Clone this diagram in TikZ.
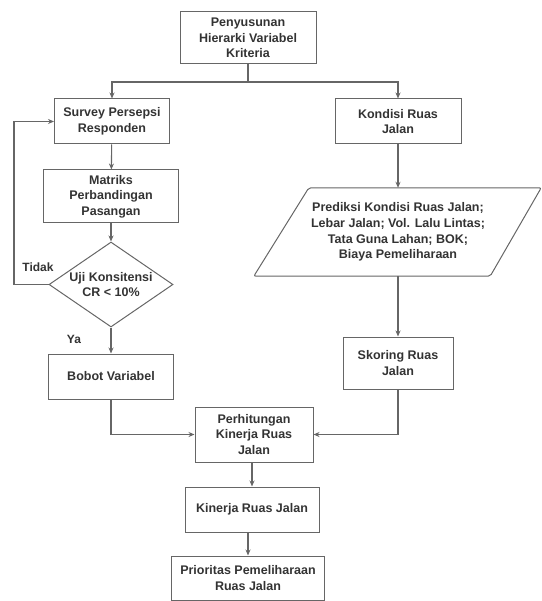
\documentclass[tikz,border=0pt]{standalone}
\usepackage{fontspec}
\setmainfont{Liberation Sans}
\usepackage{tikz}
\usetikzlibrary{arrows.meta,shapes.geometric}

\definecolor{linegray}{HTML}{666666}
\definecolor{textgray}{HTML}{333333}

\tikzset{
  box/.style={draw=linegray,line width=1pt,rectangle,align=center,inner sep=2pt,
    font=\fontsize{12.5}{15.7}\selectfont\bfseries,text=textgray},
  decision/.style={draw=linegray,line width=1pt,diamond,aspect=1.46,align=center,inner sep=0pt,
    font=\fontsize{12.5}{15.7}\selectfont\bfseries,text=textgray},
  datain/.style={rectangle,align=center,inner sep=0pt,
    font=\fontsize{12.5}{15.7}\selectfont\bfseries,text=textgray},
  outline/.style={draw=linegray,line width=1pt,rounded corners=2pt},
  flow/.style={draw=linegray,line width=1.1pt,-{Stealth[length=6pt,width=5pt]}},
  link/.style={draw=linegray,line width=1.1pt},
  tag/.style={font=\fontsize{12}{14}\selectfont\bfseries,text=textgray}
}

\begin{document}
\begin{tikzpicture}[x=1pt,y=-1pt]
        \useasboundingbox (0,0) rectangle (541,601);
        % boxes
        \node[box,minimum width=136pt,minimum height=52pt] (hierarki) at (248,38)
          {Penyusunan\\Hierarki Variabel\\Kriteria};
        \node[box,minimum width=115pt,minimum height=45pt] (survey) at (112,121.5)
          {Survey Persepsi\\Responden};
        \node[box,minimum width=126pt,minimum height=45pt] (kondisi) at (398,121.5)
          {Kondisi Ruas\\Jalan};
        \node[box,minimum width=135pt,minimum height=53pt] (matriks) at (111,196.5)
          {Matriks\\Perbandingan\\Pasangan};
        \node[decision,minimum width=124pt,minimum height=85pt] (uji) at (111,284.5)
          {Uji Konsitensi\\CR < 10\%};
        \node[datain,minimum width=236pt,minimum height=88pt] (prediksi) at (398,232)
          {Prediksi Kondisi Ruas Jalan;\\Lebar Jalan; Vol. Lalu Lintas;\\Tata Guna Lahan; BOK;\\Biaya Pemeliharaan};
        % slanted outline of the input box
        \draw[outline] ([xshift=-26pt]prediksi.south west) -- ([xshift=29pt]prediksi.north west)
          -- ([xshift=25pt]prediksi.north east) -- ([xshift=-26pt]prediksi.south east) -- cycle;
        \node[box,minimum width=125pt,minimum height=45pt] (bobot) at (111,376.5)
          {Bobot Variabel};
        \node[box,minimum width=110pt,minimum height=52pt] (skoring) at (398,363)
          {Skoring Ruas\\Jalan};
        \node[box,minimum width=118pt,minimum height=55pt] (perhitungan) at (254,434.5)
          {Perhitungan\\Kinerja Ruas\\Jalan};
        \node[box,minimum width=134pt,minimum height=45pt] (kinerja) at (252,509.5)
          {Kinerja Ruas Jalan};
        \node[box,minimum width=153pt,minimum height=44pt] (prioritas) at (248,578)
          {Prioritas Pemeliharaan\\Ruas Jalan};
        % branch from the top box
        \coordinate (cabang) at (248,82);
        \draw[link] (hierarki.south) -- (cabang);
        \draw[flow] (cabang) -| (survey.north);
        \draw[flow] (cabang) -| (kondisi.north);
        % left column
        \draw[flow] (survey) -- (matriks);
        \draw[flow] (matriks) -- (uji);
        \draw[flow] (uji) -- (bobot);
        \node[tag] (ya) at (74,339) {Ya};
        \coordinate (balik) at (14,284.5);
        \draw[flow] (uji.west) -- (balik) |- (survey.west);
        \node[tag] (tidak) at (38,267) {Tidak};
        % right column
        \draw[flow] (kondisi) -- (prediksi.north);
        \draw[flow] (prediksi.south) -- (skoring);
        % join
        \draw[flow] (bobot.south) |- (perhitungan.west);
        \draw[flow] (skoring.south) |- (perhitungan.east);
        \draw[flow] (perhitungan.south -| kinerja) -- (kinerja);
        \draw[flow] (kinerja.south -| prioritas) -- (prioritas);
\end{tikzpicture}
\end{document}
